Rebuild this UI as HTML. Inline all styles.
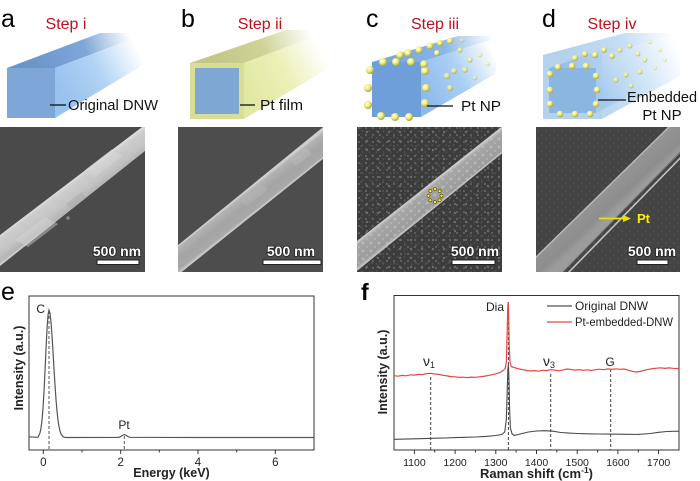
<!DOCTYPE html>
<html><head><meta charset="utf-8"><style>
html,body{margin:0;padding:0;background:#fff;}
svg{display:block;}
text{font-family:"Liberation Sans",Arial,sans-serif;}
</style></head><body>
<svg width="700" height="481" viewBox="0 0 700 481" xmlns="http://www.w3.org/2000/svg">
<defs>
  <radialGradient id="sph" cx="0.38" cy="0.35" r="0.65">
    <stop offset="0" stop-color="#ffffe6"/><stop offset="0.5" stop-color="#f0ee80"/><stop offset="1" stop-color="#a9a240"/>
  </radialGradient>
  <linearGradient id="aTop" gradientUnits="userSpaceOnUse" x1="30" y1="62" x2="128" y2="30"><stop offset="0" stop-color="#6a95c9"/><stop offset="0.55" stop-color="#7ea8d8"/><stop offset="1" stop-color="#fff"/></linearGradient>
  <linearGradient id="aSide" gradientUnits="userSpaceOnUse" x1="58" y1="92" x2="138" y2="50"><stop offset="0" stop-color="#98c1ee"/><stop offset="0.5" stop-color="#b0d3f5"/><stop offset="1" stop-color="#fff"/></linearGradient>
  <linearGradient id="bTop" gradientUnits="userSpaceOnUse" x1="215" y1="60" x2="310" y2="30"><stop offset="0" stop-color="#c2c688"/><stop offset="0.5" stop-color="#cfd496"/><stop offset="1" stop-color="#fff"/></linearGradient>
  <linearGradient id="bSide" gradientUnits="userSpaceOnUse" x1="246" y1="92" x2="322" y2="52"><stop offset="0" stop-color="#e2e8a2"/><stop offset="0.5" stop-color="#ebf0b6"/><stop offset="1" stop-color="#fff"/></linearGradient>
  <linearGradient id="cTop" gradientUnits="userSpaceOnUse" x1="395" y1="60" x2="492" y2="32"><stop offset="0" stop-color="#78a8df"/><stop offset="0.5" stop-color="#8cb7e6"/><stop offset="1" stop-color="#fff"/></linearGradient>
  <linearGradient id="cSide" gradientUnits="userSpaceOnUse" x1="423" y1="92" x2="495" y2="55"><stop offset="0" stop-color="#8dbbee"/><stop offset="0.5" stop-color="#acd0f4"/><stop offset="1" stop-color="#fff"/></linearGradient>
  <linearGradient id="dTop" gradientUnits="userSpaceOnUse" x1="565" y1="55" x2="672" y2="30"><stop offset="0" stop-color="#b3d1ed"/><stop offset="0.55" stop-color="#c7def3"/><stop offset="1" stop-color="#fff"/></linearGradient>
  <linearGradient id="dSide" gradientUnits="userSpaceOnUse" x1="602" y1="92" x2="680" y2="52"><stop offset="0" stop-color="#bcd8f1"/><stop offset="0.5" stop-color="#d2e6f7"/><stop offset="1" stop-color="#fff"/></linearGradient>
  <linearGradient id="diTop" gradientUnits="userSpaceOnUse" x1="560" y1="66" x2="640" y2="46"><stop offset="0" stop-color="#93bce6"/><stop offset="1" stop-color="#c9dff4" stop-opacity="0"/></linearGradient>
  <linearGradient id="diSide" gradientUnits="userSpaceOnUse" x1="598" y1="92" x2="650" y2="62"><stop offset="0" stop-color="#a3c9ef"/><stop offset="1" stop-color="#d2e6f7" stop-opacity="0"/></linearGradient>
  <linearGradient id="wireA" gradientUnits="userSpaceOnUse" x1="63.7" y1="186.6" x2="78.1" y2="205.8"><stop offset="0" stop-color="#dedede"/><stop offset="0.15" stop-color="#cdcdcd"/><stop offset="0.6" stop-color="#c4c4c4"/><stop offset="0.92" stop-color="#b4b4b4"/><stop offset="1" stop-color="#cfcfcf"/></linearGradient>
  <linearGradient id="wireB" gradientUnits="userSpaceOnUse" x1="245" y1="191.5" x2="259.3" y2="209.6"><stop offset="0" stop-color="#d2d2d2"/><stop offset="0.12" stop-color="#b2b2b2"/><stop offset="0.5" stop-color="#a4a4a4"/><stop offset="0.88" stop-color="#a8a8a8"/><stop offset="1" stop-color="#d0d0d0"/></linearGradient>
  <linearGradient id="wireC" gradientUnits="userSpaceOnUse" x1="430" y1="184.3" x2="443.6" y2="201.6"><stop offset="0" stop-color="#c8c8c8"/><stop offset="0.15" stop-color="#a6a6a6"/><stop offset="0.85" stop-color="#9c9c9c"/><stop offset="1" stop-color="#c0c0c0"/></linearGradient>
  <linearGradient id="wireD" gradientUnits="userSpaceOnUse" x1="590" y1="185" x2="615" y2="212"><stop offset="0" stop-color="#b4b4b4"/><stop offset="0.12" stop-color="#979797"/><stop offset="0.8" stop-color="#8e8e8e"/><stop offset="1" stop-color="#9c9c9c"/></linearGradient>
  <pattern id="dots" width="7" height="7" patternUnits="userSpaceOnUse">
    <circle cx="2" cy="2" r="1.1" fill="#626262"/><circle cx="5.5" cy="5" r="0.8" fill="#575757"/>
  </pattern>
  <pattern id="dotsb" width="11" height="9" patternUnits="userSpaceOnUse">
    <circle cx="4" cy="6" r="1.2" fill="#6a6a6a"/><circle cx="9" cy="2" r="0.9" fill="#5a5a5a"/>
  </pattern>
  <pattern id="dots2" width="8" height="8" patternUnits="userSpaceOnUse">
    <circle cx="2" cy="3" r="0.9" fill="#575757"/><circle cx="6" cy="7" r="0.8" fill="#525252"/>
  </pattern>
  <pattern id="wdots" width="8" height="8" patternUnits="userSpaceOnUse">
    <circle cx="3" cy="3" r="1.5" fill="#c8c8c8"/><circle cx="7" cy="7" r="1.1" fill="#bcbcbc"/>
  </pattern>
  <clipPath id="clA"><rect x="0" y="127" width="145" height="145"/></clipPath>
  <clipPath id="clB"><rect x="178" y="127" width="145" height="145"/></clipPath>
  <clipPath id="clC"><rect x="357" y="127" width="145" height="145"/></clipPath>
  <clipPath id="clD"><rect x="536" y="127" width="144" height="145"/></clipPath>
  <clipPath id="clWC"><polygon points="357,242 505,125 505,150 357,270"/></clipPath>
</defs>

<!-- panel letters -->
<text x="1" y="27" font-size="25">a</text>
<text x="181" y="27" font-size="25">b</text>
<text x="366" y="27" font-size="25">c</text>
<text x="542" y="27" font-size="25">d</text>
<text x="1" y="300" font-size="25">e</text>
<text x="361" y="300" font-size="23" font-weight="bold">f</text>

<!-- step titles -->
<g fill="#c0101a" font-size="16" text-anchor="middle">
<text x="66" y="29">Step i</text>
<text x="260" y="29">Step ii</text>
<text x="435" y="29">Step iii</text>
<text x="612" y="29">Step iv</text>
</g>

<!-- Schematic a -->
<polygon points="7,68 55,68 148,33 100,33" fill="url(#aTop)"/>
<polygon points="55,68 55,118 148,62 148,33" fill="url(#aSide)"/>
<rect x="7" y="68" width="48" height="50" fill="#7ea6d6"/>
<line x1="50" y1="105" x2="66" y2="105" stroke="#111" stroke-width="1.3"/>
<text x="68" y="110" font-size="15" textLength="90" lengthAdjust="spacingAndGlyphs" fill="#111">Original DNW</text>

<!-- Schematic b -->
<polygon points="190,63 244,63 332,30 286,30" fill="url(#bTop)"/>
<polygon points="244,63 244,119 332,66 332,30" fill="url(#bSide)"/>
<rect x="190" y="63" width="54" height="56" fill="#d8de98"/>
<rect x="195" y="68" width="44" height="46" fill="#7fa7d4"/>
<line x1="240" y1="105" x2="255" y2="105" stroke="#111" stroke-width="1.3"/>
<text x="260" y="110" font-size="15" textLength="43" lengthAdjust="spacingAndGlyphs" fill="#111">Pt film</text>

<!-- Schematic c -->
<polygon points="372,62 421,62 503,36 458,36" fill="url(#cTop)"/>
<polygon points="421,62 421,117 495,74 503,36" fill="url(#cSide)"/>
<rect x="372" y="62" width="49" height="55" fill="#6e9fd9"/>
<g fill="url(#sph)">
<circle cx="370" cy="70" r="4"/><circle cx="368" cy="88" r="4"/><circle cx="368" cy="105" r="4"/>
<circle cx="381" cy="116" r="4"/><circle cx="395" cy="117" r="4"/><circle cx="409" cy="117" r="4"/>
<circle cx="425" cy="71" r="4"/><circle cx="426" cy="88" r="4"/><circle cx="425" cy="103" r="4"/>
<circle cx="383" cy="62" r="4"/><circle cx="396" cy="62" r="4"/><circle cx="411" cy="62" r="4"/>
<circle cx="400" cy="55" r="3.8"/><circle cx="408" cy="53" r="3.8"/><circle cx="419" cy="50" r="3.6"/>
<circle cx="424" cy="64" r="3.8"/><circle cx="430" cy="46" r="3.4"/><circle cx="440" cy="43" r="3.2"/>
<circle cx="450" cy="41" r="3"/><circle cx="437" cy="53" r="3"/>
</g>
<g fill="url(#sph)" opacity="0.75">
<circle cx="447" cy="76" r="3.2"/><circle cx="454" cy="71" r="3"/><circle cx="465" cy="70" r="2.8"/>
<circle cx="450" cy="88" r="3"/><circle cx="470" cy="60" r="2.6"/><circle cx="460" cy="50" r="2.6"/>
</g>
<g fill="url(#sph)" opacity="0.45">
<circle cx="480" cy="55" r="2.4"/><circle cx="475" cy="78" r="2.4"/><circle cx="488" cy="64" r="2.2"/><circle cx="462" cy="40" r="2.4"/>
</g>
<line x1="427" y1="106" x2="453" y2="106" stroke="#111" stroke-width="1.3"/>
<text x="461" y="111" font-size="15" textLength="40" lengthAdjust="spacingAndGlyphs" fill="#111">Pt NP</text>

<!-- Schematic d -->
<polygon points="543,55 602,55 682,33 625,33" fill="url(#dTop)"/>
<polygon points="602,55 602,119 680,76 682,33" fill="url(#dSide)"/>
<rect x="543" y="55" width="59" height="64" fill="#b4d2ee"/>
<polygon points="549,68 596,68 652,48 606,48" fill="url(#diTop)"/>
<polygon points="596,68 596,113 652,84 652,48" fill="url(#diSide)"/>
<rect x="549" y="68" width="47" height="45" fill="#8cb6e2"/>
<g fill="url(#sph)">
<circle cx="550" cy="74" r="3.3"/><circle cx="550" cy="90" r="3.3"/><circle cx="550" cy="104" r="3.3"/>
<circle cx="560" cy="114" r="3.3"/><circle cx="575" cy="114" r="3.3"/><circle cx="590" cy="114" r="3.3"/>
<circle cx="596" cy="76" r="3.3"/><circle cx="597" cy="90" r="3.3"/><circle cx="596" cy="104" r="3.3"/>
<circle cx="558" cy="67" r="3.2"/><circle cx="572" cy="66" r="3.2"/><circle cx="586" cy="66" r="3.2"/>
<circle cx="575" cy="58" r="3"/><circle cx="585" cy="54" r="3"/><circle cx="595" cy="55" r="3"/>
<circle cx="604" cy="50" r="2.8"/><circle cx="612" cy="56" r="2.8"/>
</g>
<g fill="url(#sph)" opacity="0.7">
<circle cx="620" cy="50" r="2.6"/><circle cx="630" cy="46" r="2.5"/><circle cx="616" cy="80" r="2.7"/>
<circle cx="626" cy="75" r="2.6"/><circle cx="640" cy="72" r="2.5"/><circle cx="631" cy="86" r="2.5"/>
<circle cx="645" cy="60" r="2.4"/><circle cx="638" cy="54" r="2.4"/>
</g>
<g fill="url(#sph)" opacity="0.4">
<circle cx="655" cy="68" r="2.2"/><circle cx="660" cy="50" r="2.2"/><circle cx="650" cy="42" r="2.2"/><circle cx="665" cy="60" r="2"/>
</g>
<line x1="598" y1="100" x2="626" y2="100" stroke="#111" stroke-width="1.3"/>
<text x="627" y="102" font-size="15" textLength="70" lengthAdjust="spacingAndGlyphs" fill="#111">Embedded</text>
<text x="662" y="120" font-size="15" text-anchor="middle" fill="#111">Pt NP</text>

<!-- SEM a -->
<g clip-path="url(#clA)">
<rect x="0" y="127" width="145" height="145" fill="#4a4a4a"/>
<polygon points="0,235 150,121 150,147 0,266" fill="url(#wireA)"/>
<polygon points="15,240 45,217 58,224 28,247" fill="#d6d6d6" opacity="0.45"/>
<polygon points="85,170 112,149 122,156 95,177" fill="#dadada" opacity="0.45"/>
<polygon points="66,204 82,192 86,198 72,209" fill="#aaaaaa" opacity="0.5"/>
<circle cx="68" cy="218" r="1.8" fill="#8a8a8a"/>
</g>
<!-- SEM b -->
<g clip-path="url(#clB)">
<rect x="178" y="127" width="145" height="145" fill="#4d4d4d"/>
<polygon points="178,246 328,124 328,154 178,274" fill="url(#wireB)"/>
<line x1="178" y1="246" x2="328" y2="124" stroke="#cfcfcf" stroke-width="1.4"/>
<line x1="178" y1="274" x2="328" y2="154" stroke="#c8c8c8" stroke-width="1.4"/>
<polygon points="240,200 262,183 268,190 246,206" fill="#b6b6b6" opacity="0.5"/>
<polygon points="290,160 306,148 312,154 296,166" fill="#bcbcbc" opacity="0.5"/>
</g>
<!-- SEM c -->
<g clip-path="url(#clC)">
<rect x="357" y="127" width="145" height="145" fill="#3c3c3c"/>
<rect x="357" y="127" width="145" height="145" fill="url(#dots)"/>
<rect x="357" y="127" width="145" height="145" fill="url(#dotsb)"/>
<polygon points="357,242 505,125 505,150 357,270" fill="url(#wireC)"/>
<g clip-path="url(#clWC)"><rect x="357" y="125" width="150" height="147" fill="url(#wdots)" opacity="0.55"/></g>
<line x1="357" y1="242" x2="505" y2="125" stroke="#cccccc" stroke-width="1.5"/>
<line x1="357" y1="270" x2="505" y2="150" stroke="#c2c2c2" stroke-width="1.5"/>
<g fill="#ffee00" stroke="#111" stroke-width="0.5">
<circle cx="441.5" cy="195.7" r="1.6"/><circle cx="439.6" cy="200.3" r="1.6"/><circle cx="435" cy="202.2" r="1.6"/>
<circle cx="430.4" cy="200.3" r="1.6"/><circle cx="428.5" cy="195.7" r="1.6"/><circle cx="430.4" cy="191.1" r="1.6"/>
<circle cx="435" cy="189.2" r="1.6"/><circle cx="439.6" cy="191.1" r="1.6"/>
</g>
</g>
<!-- SEM d -->
<g clip-path="url(#clD)">
<rect x="536" y="127" width="144" height="145" fill="#444"/>
<rect x="536" y="127" width="144" height="145" fill="url(#dots2)"/>
<polygon points="530,263 670,126 690,126 690,143 562,273 530,273" fill="url(#wireD)"/>
<line x1="530" y1="263" x2="670" y2="126" stroke="#b8b8b8" stroke-width="1.5"/>
<line x1="568" y1="273" x2="690" y2="148" stroke="#c2c2c2" stroke-width="1.6"/>
<line x1="562" y1="273" x2="684" y2="148" stroke="#6e6e6e" stroke-width="0.8"/>
<line x1="599" y1="218.5" x2="624" y2="218.5" stroke="#f0e000" stroke-width="1.8"/>
<polygon points="623,215 631,218.5 623,222" fill="#f0e000"/>
<text x="637" y="223" font-size="13" font-weight="bold" fill="#ffee00">Pt</text>
</g>

<!-- scale bars -->
<g font-size="14" font-weight="bold" fill="#fff" stroke="#222" stroke-width="1.6" paint-order="stroke" text-anchor="middle">
<text x="117" y="256">500 nm</text>
<text x="291" y="256">500 nm</text>
<text x="475" y="256">500 nm</text>
<text x="652" y="256">500 nm</text>
</g>
<g fill="#fff" stroke="#222" stroke-width="1">
<rect x="97" y="260" width="42" height="4.5"/>
<rect x="263" y="260" width="58" height="4.5"/>
<rect x="452" y="260" width="43" height="4.5"/>
<rect x="637" y="260" width="31" height="4.5"/>
</g>

<!-- Chart e -->
<rect x="29" y="296" width="285" height="154" fill="none" stroke="#333" stroke-width="1"/>
<g stroke="#333" stroke-width="1">
<line x1="43.3" y1="450" x2="43.3" y2="454"/><line x1="120.7" y1="450" x2="120.7" y2="454"/>
<line x1="198" y1="450" x2="198" y2="454"/><line x1="275.3" y1="450" x2="275.3" y2="454"/>
<line x1="82" y1="450" x2="82" y2="452.5"/><line x1="159.3" y1="450" x2="159.3" y2="452.5"/>
<line x1="236.7" y1="450" x2="236.7" y2="452.5"/>
</g>
<g font-size="11.5" text-anchor="middle" fill="#222">
<text x="43.3" y="466">0</text><text x="120.7" y="466">2</text><text x="198" y="466">4</text><text x="275.3" y="466">6</text>
</g>
<text x="171.5" y="477" font-size="12.5" font-weight="bold" text-anchor="middle" fill="#222">Energy (keV)</text>
<text transform="translate(23,368) rotate(-90)" font-size="12.5" font-weight="bold" text-anchor="middle" fill="#222">Intensity (a.u.)</text>
<g stroke="#555" stroke-width="1" stroke-dasharray="3,2">
<line x1="49" y1="311" x2="49" y2="450"/>
<line x1="124.3" y1="436" x2="124.3" y2="450"/>
</g>
<path d="M29,436.8 L38,437.3 L39,435.3 L40,432.8 L41,428.1 L42,420.2 L43,408.2 L44,391.6 L45,371.1 L46,349.2 L47,329.2 L48,315.1 L49,310 L50,313.1 L51,322 L52,335.4 L53,351.6 L54,368.7 L55,385.1 L56,399.5 L57,411.3 L58,420.2 L59,426.7 L60,431.1 L61,433.9 L62,435.5 L63,436.5 L64,437.2 L66,437.5 L118,437.4 L120,437 L122,435.6 L124,434.6 L126,435.2 L128,436.6 L130,437.3 L200,437.5 L314,437.5" fill="none" stroke="#555" stroke-width="1.2"/>
<text x="40.7" y="313" font-size="12" text-anchor="middle" fill="#222">C</text>
<text x="124" y="429" font-size="12" text-anchor="middle" fill="#222">Pt</text>

<!-- Chart f -->
<rect x="394" y="295.5" width="285" height="154.5" fill="none" stroke="#333" stroke-width="1"/>
<g stroke="#333" stroke-width="1">
<line x1="414.4" y1="450" x2="414.4" y2="454"/><line x1="455.1" y1="450" x2="455.1" y2="454"/>
<line x1="495.8" y1="450" x2="495.8" y2="454"/><line x1="536.5" y1="450" x2="536.5" y2="454"/>
<line x1="577.2" y1="450" x2="577.2" y2="454"/><line x1="617.9" y1="450" x2="617.9" y2="454"/>
<line x1="658.6" y1="450" x2="658.6" y2="454"/>
<line x1="434.7" y1="450" x2="434.7" y2="452.5"/><line x1="475.4" y1="450" x2="475.4" y2="452.5"/>
<line x1="516.1" y1="450" x2="516.1" y2="452.5"/><line x1="556.8" y1="450" x2="556.8" y2="452.5"/>
<line x1="597.6" y1="450" x2="597.6" y2="452.5"/><line x1="638.3" y1="450" x2="638.3" y2="452.5"/>
</g>
<g font-size="10.5" text-anchor="middle" fill="#222">
<text x="414.4" y="466">1100</text><text x="455.1" y="466">1200</text><text x="495.8" y="466">1300</text>
<text x="536.5" y="466">1400</text><text x="577.2" y="466">1500</text><text x="617.9" y="466">1600</text>
<text x="658.6" y="466">1700</text>
</g>
<text x="536.5" y="478" font-size="13" font-weight="bold" text-anchor="middle" fill="#222">Raman shift (cm<tspan font-size="8.5" dy="-5">-1</tspan><tspan dy="5">)</tspan></text>
<text transform="translate(387,372) rotate(-90)" font-size="12.5" font-weight="bold" text-anchor="middle" fill="#222">Intensity (a.u.)</text>
<g stroke="#444" stroke-width="1" stroke-dasharray="3,2">
<line x1="430.7" y1="377" x2="430.7" y2="450"/>
<line x1="508.4" y1="302" x2="508.4" y2="450"/>
<line x1="550.7" y1="374" x2="550.7" y2="450"/>
<line x1="610.7" y1="369" x2="610.7" y2="450"/>
</g>
<!-- black series -->
<path d="M394,439.3 L404,439.1 L414.4,438.8 L424,438.6 L434.7,438.2 L445,438 L455.1,437.6 L465,437.3 L475.4,437 L486,436.4 L495.8,435.5 L501.9,434.5 L504.7,432 L506.3,420 L507.1,395 L507.8,370 L508.4,365 L509,380 L509.6,410 L510.4,428 L512.1,434 L514.1,435.5 L520.2,434 L528.4,432 L536.5,431 L544.6,430.7 L552.8,431.2 L560.9,432.5 L569,433.1 L577.2,433.5 L587,433.8 L597.6,434 L608,434.1 L617.9,434.2 L628,434.3 L638.3,434.4 L644,434 L650.5,433.5 L658.6,432.3 L666.8,431.5 L679,431.2" fill="none" stroke="#4a4a4a" stroke-width="1.1"/>
<!-- red series -->
<path d="M394,375.7 L398.1,376.2 L402.1,375.4 L406.2,375.8 L410.3,374.8 L414.4,375.1 L418.4,374.3 L422.5,374.6 L426.6,373.6 L430.7,373.3 L434.7,374 L438.8,374.4 L442.9,375.3 L447,375.9 L451,376.6 L455.1,376.8 L459.1,377.4 L463.1,377.2 L467.3,377.6 L471.4,377.1 L475.4,377.3 L479.5,376.8 L483.6,376.4 L487.6,375.6 L491.7,374.8 L495.8,373.8 L499.9,372.4 L503.1,370.5 L505.2,368.5 L506.3,362 L507.1,335 L507.8,306 L508.2,302.5 L508.6,312 L509.2,345 L510,362 L511.3,366.5 L514.1,367.5 L518.2,368.8 L522.2,369.5 L526.3,370.4 L530.4,371 L534.5,370.6 L538.5,371.2 L542.6,370.3 L546.7,370.6 L550.8,369.6 L554.8,370.2 L558.9,370.8 L563,369.9 L567.1,369 L571.1,369.5 L575.2,370.2 L579.3,369.6 L583.4,370.3 L587.4,369.8 L591.5,370.5 L595.6,369.7 L599.7,369.2 L603.7,369.8 L607.8,368.9 L611.9,369.4 L616,368.8 L620,369.3 L624.1,369 L628.2,370.2 L632.3,371.3 L636.3,372 L640.4,371.4 L644.5,370.2 L648.6,369.3 L652.6,368.6 L656.7,368.2 L660.8,367.8 L664.9,368.4 L668.9,367.9 L673,368.3 L679,368.5" fill="none" stroke="#e8473f" stroke-width="1.2"/>
<!-- labels f -->
<text x="495" y="311" font-size="12" text-anchor="middle" fill="#222">Dia</text>
<text x="429" y="366" font-size="14" font-family="Liberation Serif,serif" text-anchor="middle" fill="#222">ν<tspan font-size="9" dy="2">1</tspan></text>
<text x="549" y="366" font-size="14" font-family="Liberation Serif,serif" text-anchor="middle" fill="#222">ν<tspan font-size="9" dy="2">3</tspan></text>
<text x="610" y="366" font-size="12" text-anchor="middle" fill="#222">G</text>
<!-- legend -->
<line x1="547" y1="306" x2="572" y2="306" stroke="#555" stroke-width="1.3"/>
<text x="575" y="310" font-size="12" textLength="73" lengthAdjust="spacingAndGlyphs" fill="#222">Original DNW</text>
<line x1="547" y1="322" x2="572" y2="322" stroke="#e8473f" stroke-width="1.3"/>
<text x="575" y="326" font-size="12" textLength="98" lengthAdjust="spacingAndGlyphs" fill="#222">Pt-embedded-DNW</text>
</svg>
</body></html>
